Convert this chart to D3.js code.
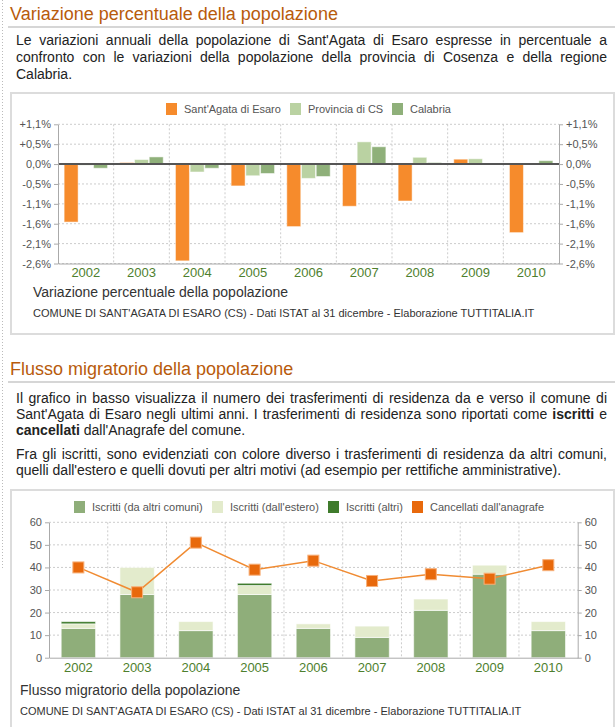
<!DOCTYPE html>
<html>
<head>
<meta charset="utf-8">
<script src="https://cdn.jsdelivr.net/npm/d3@7"></script>
<style>
    body { margin: 0; background: #fff; font-family: "Liberation Sans", Arial, Helvetica, sans-serif; width: 615px; height: 727px; overflow: hidden; position: relative; }
    .title { position: absolute; left: 10px; width: 605px; font-size: 18px; line-height: 20px; color: #b85b0c; }
    .rule { position: absolute; left: 8px; width: 607px; height: 0; border-top: 2px solid #d6d6d6; }
    .para { position: absolute; left: 16px; width: 591px; font-size: 14px; color: #222; }
    .para div { text-align: justify; text-align-last: justify; white-space: nowrap; }
    .para div.last { text-align-last: left; }
    svg { position: absolute; left: 0; top: 0; }
</style>
</head>
<body>

<div class="title" style="top:4px">Variazione percentuale della popolazione</div>
<div class="rule" style="top:26px"></div>
<div class="para" style="top:31.5px; line-height:17px">
    <div>Le variazioni annuali della popolazione di Sant'Agata di Esaro espresse in percentuale a</div>
    <div>confronto con le variazioni della popolazione della provincia di Cosenza e della regione</div>
    <div class="last">Calabria.</div>
</div>

<div class="title" style="top:359px">Flusso migratorio della popolazione</div>
<div class="rule" style="top:381px"></div>
<div class="para" style="top:389.5px; line-height:16px">
    <div>Il grafico in basso visualizza il numero dei trasferimenti di residenza da e verso il comune di</div>
    <div>Sant'Agata di Esaro negli ultimi anni. I trasferimenti di residenza sono riportati come <b>iscritti</b> e</div>
    <div class="last"><b>cancellati</b> dall'Anagrafe del comune.</div>
</div>
<div class="para" style="top:445.5px; line-height:16px">
    <div>Fra gli iscritti, sono evidenziati con colore diverso i trasferimenti di residenza da altri comuni,</div>
    <div class="last">quelli dall'estero e quelli dovuti per altri motivi (ad esempio per rettifiche amministrative).</div>
</div>

<svg id="page" width="615" height="727"></svg>

<script>
(function() {

    //dati
    var years = ["2002", "2003", "2004", "2005", "2006", "2007", "2008", "2009", "2010"];

    //variazione percentuale
    var santAgata   = [-1.54, 0.04, -2.57, -0.58, -1.66, -1.12, -0.98, 0.13, -1.82];
    var provinciaCS = [-0.03, 0.12, -0.21, -0.31, -0.38, 0.59, 0.18, 0.14, 0.00];
    var calabria    = [-0.11, 0.19, -0.11, -0.25, -0.33, 0.46, 0.04, 0.01, 0.09];
    var pctTicks = [1.056, 0.528, 0, -0.528, -1.056, -1.584, -2.112, -2.64];
    var pctTickLabels = ["+1,1%", "+0,5%", "0,0%", "-0,5%", "-1,1%", "-1,6%", "-2,1%", "-2,6%"];
    var pctSeries = ["Sant'Agata di Esaro", "Provincia di CS", "Calabria"];

    //flusso migratorio
    var iscrittiComuni = [13, 28, 12, 28, 13, 9, 21, 37, 12];
    var iscrittiEstero = [2, 12, 4, 4, 2, 5, 5, 4, 4];
    var iscrittiAltri  = [1, 0, 0, 1, 0, 0, 0, 0, 0];
    var cancellati     = [40, 29, 51, 39, 43, 34, 37, 35, 41];
    var flowTicks = [0, 10, 20, 30, 40, 50, 60];
    var flowSeries = ["Iscritti (da altri comuni)", "Iscritti (dall'estero)", "Iscritti (altri)", "Cancellati dall'anagrafe"];

    //righe troppo lunghe: stringe un po' le lettere
    document.querySelectorAll(".para div").forEach(function(div) {
        var r = document.createRange();
        r.selectNodeContents(div);
        var w = r.getBoundingClientRect().width;
        var over = w - 591;
        if (over > 0) {
            div.style.letterSpacing = (-over / div.textContent.trim().length) + "px";
        }
    });

    var svg = d3.select("#page");
    var font = "'Liberation Sans', Arial, sans-serif";

    //linea punteggiata a sinistra
    svg.append("line")
        .attr("x1", 2.5).attr("x2", 2.5).attr("y1", 0).attr("y2", 570)
        .attr("stroke", "#bbb").attr("stroke-dasharray", "1,2");

    function box(x, y, w, h) {
        svg.append("rect")
            .attr("x", x).attr("y", y).attr("width", w).attr("height", h)
            .attr("fill", "#fff").attr("stroke", "#dcdcdc").attr("stroke-width", 2);
    }

    function legend(items, x0s, y) {
        var g = svg.append("g");
        items.forEach(function(it, i) {
            g.append("rect")
                .attr("x", x0s[i]).attr("y", y - 6).attr("width", 11).attr("height", 12)
                .attr("fill", it.color);
            g.append("text")
                .attr("x", x0s[i] + 18).attr("y", y + 4)
                .attr("font-family", font).attr("font-size", 11).attr("fill", "#555")
                .text(it.name);
        });
    }

    function caption(x, y, title) {
        svg.append("text").attr("x", x).attr("y", y)
            .attr("font-family", font).attr("font-size", 14).attr("fill", "#333")
            .text(title);
        svg.append("text").attr("x", x).attr("y", y + 20)
            .attr("font-family", font).attr("font-size", 11).attr("fill", "#333")
            .text("COMUNE DI SANT'AGATA DI ESARO (CS) - Dati ISTAT al 31 dicembre - Elaborazione TUTTITALIA.IT");
    }

    function styleAxis(g) {
        g.select(".domain").attr("stroke", "#aaa");
        g.selectAll(".tick line").attr("stroke", "#aaa");
        g.selectAll(".tick text").attr("font-family", font).attr("font-size", 11).attr("fill", "#555");
    }

    // ---------------- grafico 1 ----------------
    box(11, 93, 603, 241);

    var pctColors = ["#f68b2c", "#bad2a2", "#8fb07a"];
    legend(pctSeries.map(function(s, i) { return {name: s, color: pctColors[i]}; }),
        [166, 290, 392], 109);

    var x0 = d3.scaleBand().domain(years).range([58, 559]).paddingInner(0.22).paddingOuter(0.11);
    var x1 = d3.scaleBand().domain(d3.range(3)).range([0, x0.bandwidth()]).paddingInner(0.05);
    var y = d3.scaleLinear().domain([-2.64, 1.056]).range([263.5, 124.3]);

    var grid = svg.append("g").attr("stroke", "#ccc").attr("stroke-dasharray", "2,2");
    grid.selectAll(".h").data(pctTicks).enter().append("line")
        .attr("x1", 58).attr("x2", 559)
        .attr("y1", function(d) { return y(d); }).attr("y2", function(d) { return y(d); });
    grid.selectAll(".v").data(d3.range(1, years.length)).enter().append("line")
        .attr("x1", function(i) { return 58 + i * x0.step(); })
        .attr("x2", function(i) { return 58 + i * x0.step(); })
        .attr("y1", 124.3).attr("y2", 263.5);

    var pctRows = years.map(function(yr, i) { return [santAgata[i], provinciaCS[i], calabria[i]]; });

    var groups = svg.append("g").selectAll("g").data(pctRows).enter().append("g")
        .attr("transform", function(d, i) { return "translate(" + x0(years[i]) + ",0)"; });
    groups.selectAll("rect").data(function(d) { return d; }).enter().append("rect")
        .attr("x", function(d, j) { return x1(j); })
        .attr("width", x1.bandwidth())
        .attr("y", function(d) { return d >= 0 ? y(d) : y(0); })
        .attr("height", function(d) { return Math.abs(y(d) - y(0)); })
        .attr("fill", function(d, j) { return pctColors[j]; })
        .attr("stroke", "rgba(255,255,255,0.5)").attr("stroke-width", 1);

    svg.append("line")
        .attr("x1", 58).attr("x2", 559).attr("y1", y(0)).attr("y2", y(0))
        .attr("stroke", "#555").attr("stroke-width", 2);

    var fmtPct = function(d) { return pctTickLabels[pctTicks.indexOf(d)]; };
    svg.append("g").attr("transform", "translate(58,0)")
        .call(d3.axisLeft(y).tickValues(pctTicks).tickFormat(fmtPct).tickSize(4).tickSizeOuter(0))
        .call(styleAxis);
    svg.append("g").attr("transform", "translate(559,0)")
        .call(d3.axisRight(y).tickValues(pctTicks).tickFormat(fmtPct).tickSize(4).tickSizeOuter(0))
        .call(styleAxis);
    svg.append("g").attr("transform", "translate(0,263.5)")
        .call(d3.axisBottom(x0).tickSize(0).tickPadding(4))
        .call(function(g) {
            g.select(".domain").attr("stroke", "#aaa");
            g.selectAll("text").attr("font-family", font).attr("font-size", 13).attr("fill", "#4e7f2e");
        });

    caption(33, 297, "Variazione percentuale della popolazione");

    // ---------------- grafico 2 ----------------
    box(11, 490, 603, 250);

    var flowColors = ["#8fae7a", "#e3ebcc", "#3f7b2c", "#e8690c"];
    legend(flowSeries.map(function(s, i) { return {name: s, color: flowColors[i]}; }),
        [74, 212, 328, 412], 507);

    var xb = d3.scaleBand().domain(years).range([49, 577.7]).paddingInner(0.415).paddingOuter(0.2075);
    var yb = d3.scaleLinear().domain([0, 60]).range([657.7, 522.3]);

    var grid2 = svg.append("g").attr("stroke", "#ccc").attr("stroke-dasharray", "2,2");
    grid2.selectAll(".h").data(flowTicks.slice(1)).enter().append("line")
        .attr("x1", 49).attr("x2", 577.7)
        .attr("y1", function(d) { return yb(d); }).attr("y2", function(d) { return yb(d); });
    grid2.selectAll(".v").data(d3.range(1, years.length)).enter().append("line")
        .attr("x1", function(i) { return 49 + i * xb.step(); })
        .attr("x2", function(i) { return 49 + i * xb.step(); })
        .attr("y1", 522.3).attr("y2", 657.7);

    var flowRows = years.map(function(yr, i) {
        return {year: yr, comuni: iscrittiComuni[i], estero: iscrittiEstero[i], altri: iscrittiAltri[i]};
    });
    var stack = d3.stack().keys(["comuni", "estero", "altri"])(flowRows);

    svg.append("g").selectAll("g").data(stack).enter().append("g")
        .attr("fill", function(d, k) { return flowColors[k]; })
        .selectAll("rect").data(function(d) { return d; }).enter().append("rect")
        .attr("x", function(d) { return xb(d.data.year); })
        .attr("width", xb.bandwidth())
        .attr("y", function(d) { return yb(d[1]); })
        .attr("height", function(d) { return yb(d[0]) - yb(d[1]); })
        .attr("stroke", "rgba(255,255,255,0.6)").attr("stroke-width", 1);

    var line = d3.line()
        .x(function(d, i) { return xb(years[i]) + xb.bandwidth() / 2; })
        .y(function(d) { return yb(d); });
    svg.append("path").datum(cancellati)
        .attr("d", line).attr("fill", "none")
        .attr("stroke", "#f08b32").attr("stroke-width", 1.5);
    svg.append("g").selectAll("rect").data(cancellati).enter().append("rect")
        .attr("x", function(d, i) { return xb(years[i]) + xb.bandwidth() / 2 - 5.5; })
        .attr("y", function(d) { return yb(d) - 5.5; })
        .attr("width", 11).attr("height", 11)
        .attr("fill", flowColors[3]).attr("stroke", "#f7b07a").attr("stroke-width", 1);

    svg.append("g").attr("transform", "translate(49,0)")
        .call(d3.axisLeft(yb).tickValues(flowTicks).tickSize(4).tickSizeOuter(0))
        .call(styleAxis);
    svg.append("g").attr("transform", "translate(577.7,0)")
        .call(d3.axisRight(yb).tickValues(flowTicks).tickSize(4).tickSizeOuter(0))
        .call(styleAxis);
    svg.append("g").attr("transform", "translate(0,657.7)")
        .call(d3.axisBottom(xb).tickSize(0).tickPadding(5))
        .call(function(g) {
            g.select(".domain").attr("stroke", "#aaa");
            g.selectAll("text").attr("font-family", font).attr("font-size", 13).attr("fill", "#4e7f2e");
        });

    caption(20, 695, "Flusso migratorio della popolazione");

})();
</script>
</body>
</html>
